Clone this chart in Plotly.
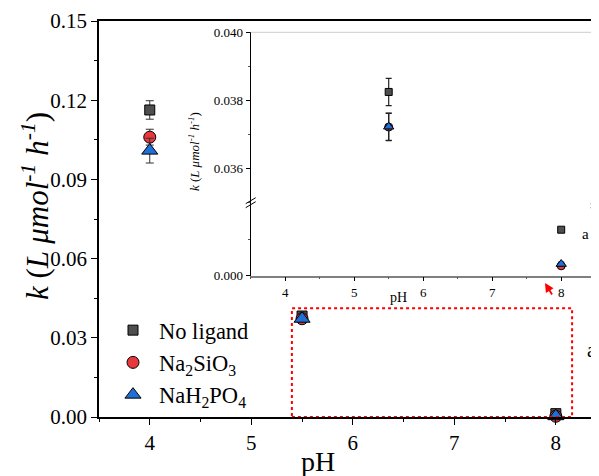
import plotly.graph_objects as go

# ---------------- data ----------------
ph = [4, 5.5, 8]
series_names = ["No ligand", "Na<sub>2</sub>SiO<sub>3</sub>", "NaH<sub>2</sub>PO<sub>4</sub>"]
k_no_ligand = [0.1163, 0.03825, 0.00126]
k_na2sio3 = [0.1060, 0.03722, 0.00027]
k_nah2po4 = [0.1009, 0.03723, 0.00032]
err_no_ligand = [0.0035, 0.0004, 0.00005]
err_na2sio3 = [0.0030, 0.0004, 0.00005]
err_nah2po4 = [0.0047, 0.0004, 0.00005]

main_yticks = [0.00, 0.03, 0.06, 0.09, 0.12, 0.15]
main_xticks = [4, 5, 6, 7, 8]
inset_upper_ticks = [0.036, 0.038, 0.040]
inset_lower_ticks = [0.000]

FONT = "Liberation Serif, Times New Roman, Times, serif"
colors = ["#4f4f4f", "#e8383d", "#1f6fd6"]
symbols = ["square", "circle", "triangle-up"]
main_sizes = [10, 12, 14]
inset_sizes = [7, 8, 9]
values = [k_no_ligand, k_na2sio3, k_nah2po4]
errors = [err_no_ligand, err_na2sio3, err_nah2po4]

fig = go.Figure()

# main traces
for name, vals, errs, col, sym, sz in zip(series_names, values, errors, colors, symbols, main_sizes):
    fig.add_trace(go.Scatter(
        x=ph, y=vals, mode="markers", name=name,
        marker=dict(symbol=sym, color=col, size=sz, line=dict(color="black", width=1)),
        error_y=dict(type="data", array=errs, color="#333333", thickness=1, width=4),
        xaxis="x", yaxis="y", cliponaxis=False,
    ))

# inset traces (broken axis: upper and lower segments)
for yax in ["y2", "y3"]:
    for name, vals, errs, col, sym, sz in zip(series_names, values, errors, colors, symbols, inset_sizes):
        fig.add_trace(go.Scatter(
            x=ph, y=vals, mode="markers", name=name, showlegend=False,
            marker=dict(symbol=sym, color=col, size=sz, line=dict(color="black", width=1)),
            error_y=dict(type="data", array=errs, color="#222222", thickness=1.2, width=3),
            xaxis="x2", yaxis=yax,
        ))

# The page body has an 8px margin, so the figure is drawn 8px in from the window edge.
OFF = 8
W, H = 599 - OFF, 476 - OFF
PL, PR, PT, PB = 99, 599, 21, 417  # plot area in window pixels
ML, MT = PL - OFF, PT - OFF
MR = W - (PR - OFF)
MB = H - (PB - OFF)
PW, PHh = PR - PL, PB - PT


def px(xp):
    return (xp - PL) / PW


def py(yp):
    return (PB - yp) / PHh


inset_l, inset_r = px(250.7), px(595.7)
inset_top, inset_break, inset_bot = py(32.3), py(202.7), py(275.7)

fig.update_layout(
    width=W, height=H,
    margin=dict(l=ML, r=MR, t=MT, b=MB, autoexpand=False),
    paper_bgcolor="white", plot_bgcolor="white",
    font=dict(family=FONT, color="black"),
    showlegend=True,
    legend=dict(
        x=px(107), y=py(309), xanchor="left", yanchor="top",
        font=dict(family=FONT, size=22.5), bgcolor="rgba(0,0,0,0)",
        tracegroupgap=0, itemwidth=42,
    ),
    xaxis=dict(
        domain=[0, 1], range=[3.5, 8.425], tickvals=main_xticks,
        ticks="outside", ticklen=6, tickwidth=1, tickcolor="black",
        minor=dict(dtick=0.5, tick0=3.5, ticks="outside", ticklen=3, tickcolor="black"),
        showline=True, linecolor="black", linewidth=1.5, mirror=True,
        showgrid=False, zeroline=False, tickfont=dict(size=21, family=FONT),
    ),
    yaxis=dict(
        domain=[0, 1], range=[0, 0.15], tickvals=main_yticks, tickformat=".2f",
        ticks="outside", ticklen=6, tickwidth=1, tickcolor="black",
        minor=dict(dtick=0.015, tick0=0, ticks="outside", ticklen=3, tickcolor="black"),
        showline=True, linecolor="black", linewidth=1.5,
        showgrid=False, zeroline=False, tickfont=dict(size=21, family=FONT),
    ),
    xaxis2=dict(
        domain=[inset_l, inset_r], anchor="y3", range=[3.5, 8.5], tickvals=main_xticks,
        ticks="outside", ticklen=4, tickcolor="black",
        minor=dict(dtick=0.5, tick0=3.5, ticks="outside", ticklen=2, tickcolor="#555555"),
        showline=True, linecolor="#808080", linewidth=1.5,
        showgrid=False, zeroline=False, tickfont=dict(size=13, family=FONT),
    ),
    yaxis2=dict(
        domain=[inset_break, inset_top], anchor="x2", range=[0.035, 0.040],
        tickvals=inset_upper_ticks, tickformat=".3f",
        ticks="outside", ticklen=4, tickcolor="black",
        minor=dict(dtick=0.001, tick0=0.035, ticks="outside", ticklen=2, tickcolor="#555555"),
        showline=True, linecolor="black", linewidth=1.2,
        showgrid=False, zeroline=False, tickfont=dict(size=13, family=FONT),
    ),
    yaxis3=dict(
        domain=[inset_bot, inset_break], anchor="x2", range=[0, 0.002],
        tickvals=inset_lower_ticks, tickformat=".3f",
        ticks="outside", ticklen=4, tickcolor="black",
        minor=dict(dtick=0.001, tick0=0, ticks="outside", ticklen=2, tickcolor="#555555"),
        showline=True, linecolor="black", linewidth=1.2,
        showgrid=False, zeroline=False, tickfont=dict(size=13, family=FONT),
    ),
)

ytitle = "<i>k</i> (<i>L μmol<sup>-1</sup> h<sup>-1</sup></i>)"

annotations = [
    dict(text=ytitle, x=px(36), y=py(206), xref="paper", yref="paper",
         textangle=-90, showarrow=False, font=dict(size=31, family=FONT),
         xanchor="center", yanchor="middle"),
    dict(text="pH", x=px(318), y=py(462), xref="paper", yref="paper",
         showarrow=False, font=dict(size=28, family=FONT), xanchor="center", yanchor="middle"),
    dict(text=ytitle, x=px(194), y=py(152), xref="paper", yref="paper",
         textangle=-90, showarrow=False, font=dict(size=13, family=FONT),
         xanchor="center", yanchor="middle"),
    dict(text="pH", x=px(398), y=py(297), xref="paper", yref="paper",
         showarrow=False, font=dict(size=14, family=FONT), xanchor="center", yanchor="middle"),
    dict(text="a", x=px(585), y=py(234), xref="paper", yref="paper",
         showarrow=False, font=dict(size=15, family=FONT), xanchor="center", yanchor="middle"),
    dict(text="a", x=px(591), y=py(350), xref="paper", yref="paper",
         showarrow=False, font=dict(size=20, family=FONT), xanchor="center", yanchor="middle"),
    dict(text="", x=px(545), y=py(283), xref="paper", yref="paper",
         showarrow=True, ax=8, ay=13, arrowcolor="red", arrowwidth=1.8,
         arrowhead=2, arrowsize=1),
]
fig.update_layout(annotations=annotations)

shapes = [
    # red dotted zoom box around the inset region
    dict(type="rect", xref="x", yref="y", x0=5.4, x1=8.16, y0=0, y1=0.0412,
         line=dict(color="red", width=2, dash="dot")),
    # inset top & right frame lines
    dict(type="line", xref="paper", yref="paper", x0=inset_l, x1=inset_r,
         y0=inset_top, y1=inset_top, line=dict(color="#cccccc", width=1)),
    dict(type="line", xref="paper", yref="paper", x0=inset_r, x1=inset_r,
         y0=inset_bot, y1=inset_top, line=dict(color="#808080", width=1.5)),
]
# axis break marks
for xb in [250.7, 595.7]:
    for dy in [-2, 2]:
        shapes.append(dict(type="line", xref="paper", yref="paper",
                           x0=px(xb - 5), y0=py(202.7 + dy + 3),
                           x1=px(xb + 5), y1=py(202.7 + dy - 3),
                           line=dict(color="black", width=1)))
fig.update_layout(shapes=shapes)

fig.write_html("out.html")
